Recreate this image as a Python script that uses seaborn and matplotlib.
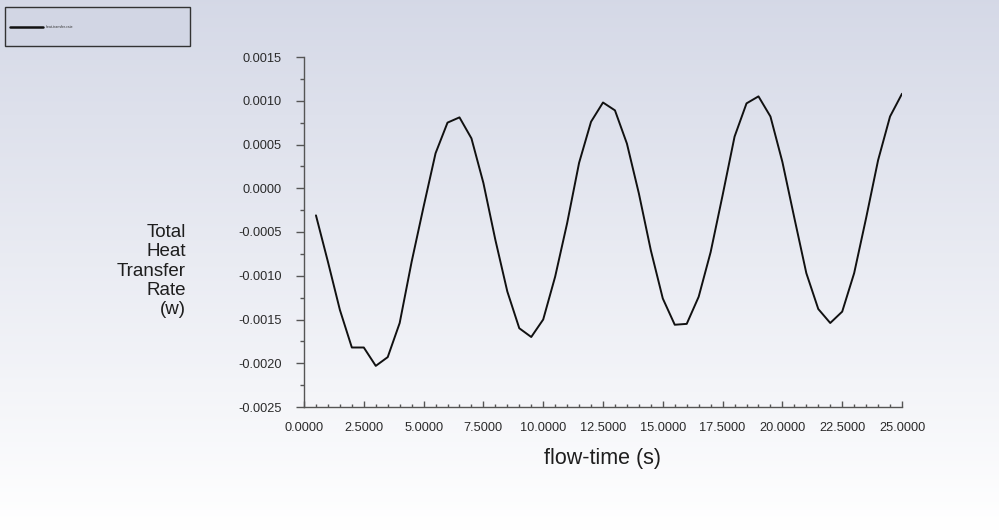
import numpy as np
import pandas as pd
import matplotlib
matplotlib.use("Agg")
import matplotlib.pyplot as plt
import matplotlib.ticker as mticker
from matplotlib.patches import Rectangle
from matplotlib.lines import Line2D
import seaborn as sns

# ---- data ----
flow_time = [0.5, 1.0, 1.5, 2.0, 2.5, 3.0, 3.5, 4.0, 4.5, 5.0,
             5.5, 6.0, 6.5, 7.0, 7.5, 8.0, 8.5, 9.0, 9.5, 10.0,
             10.5, 11.0, 11.5, 12.0, 12.5, 13.0, 13.5, 14.0, 14.5, 15.0,
             15.5, 16.0, 16.5, 17.0, 17.5, 18.0, 18.5, 19.0, 19.5, 20.0,
             20.5, 21.0, 21.5, 22.0, 22.5, 23.0, 23.5, 24.0, 24.5, 25.0]
heat_rate = [-0.00031, -0.00084, -0.00139, -0.00182, -0.00182, -0.00203, -0.00193, -0.00154, -0.00084, -0.00021,
             0.00040, 0.00075, 0.00081, 0.00057, 0.00006, -0.00059, -0.00118, -0.00160, -0.00170, -0.00150,
             -0.00101, -0.00040, 0.00029, 0.00076, 0.00098, 0.00089, 0.00051, -0.00006, -0.00071, -0.00126,
             -0.00156, -0.00155, -0.00124, -0.00073, -0.00008, 0.00059, 0.00097, 0.00105, 0.00082, 0.00030,
             -0.00034, -0.00097, -0.00138, -0.00154, -0.00141, -0.00097, -0.00034, 0.00032, 0.00082, 0.00108]
series_name = "heat-transfer-rate"
x_label = "flow-time (s)"
y_label = "Total\nHeat\nTransfer\nRate\n(w)"

df = pd.DataFrame({"flow_time": flow_time, "value": heat_rate})

sns.set_theme(style="white")
plt.rcParams["font.family"] = ["Liberation Sans", "DejaVu Sans"]

W, H = 999, 531
fig = plt.figure(figsize=(W / 100, H / 100), dpi=100)

# gradient background
bg = fig.add_axes([0, 0, 1, 1], zorder=-10)
top = np.array([0.835, 0.850, 0.905])
bot = np.array([1.0, 1.0, 1.0])
t = np.linspace(0, 1, 256)[:, None]
grad = top[None, :] * (1 - t) + bot[None, :] * t
bg.imshow(grad[:, None, :].repeat(2, axis=1), aspect="auto", extent=[0, 1, 0, 1])
bg.set_axis_off()

ax = fig.add_axes([304 / W, 1 - 407 / H, 598 / W, 350 / H])
ax.set_facecolor("none")
sns.lineplot(data=df, x="flow_time", y="value", ax=ax, color="#111111",
             linewidth=1.4, legend=False)

ax.set_xlim(0, 25)
ax.set_ylim(-0.0025, 0.0015)
ax.xaxis.set_major_locator(mticker.MultipleLocator(2.5))
ax.xaxis.set_minor_locator(mticker.MultipleLocator(0.5))
ax.yaxis.set_major_locator(mticker.MultipleLocator(0.0005))
ax.yaxis.set_minor_locator(mticker.MultipleLocator(0.00025))
ax.xaxis.set_major_formatter(mticker.FormatStrFormatter("%.4f"))
ax.yaxis.set_major_formatter(mticker.FormatStrFormatter("%.4f"))

for s in ["top", "right"]:
    ax.spines[s].set_visible(False)
for s in ["left", "bottom"]:
    ax.spines[s].set_color("#555555")
    ax.spines[s].set_linewidth(1.0)

ax.tick_params(axis="y", which="major", direction="out", length=6, width=1,
               color="#555555", labelsize=9.2, labelcolor="#2a2a2a", pad=10, left=True)
ax.tick_params(axis="y", which="minor", direction="out", length=3, width=1,
               color="#555555", left=True)
ax.tick_params(axis="x", which="major", direction="in", length=4, width=1,
               color="#555555", labelsize=9.2, labelcolor="#2a2a2a", pad=11, bottom=True)
ax.tick_params(axis="x", which="minor", direction="in", length=2.5, width=1,
               color="#555555", bottom=True)

ax.set_xlabel(x_label, fontsize=15.5, color="#1e1e1e", labelpad=10)
ax.set_ylabel("")
fig.text(186 / W, 1 - 271 / H, y_label, ha="right", va="center",
         fontsize=13.5, color="#1e1e1e", linespacing=1.18, multialignment="right")

# legend box (Fluent style)
fig.patches.append(Rectangle((5 / W, 1 - 46 / H), 185 / W, 39 / H,
                             transform=fig.transFigure, facecolor="#d2d6e4",
                             edgecolor="#333333", linewidth=1.0, zorder=5))
fig.lines.append(Line2D([10 / W, 43 / W], [1 - 27 / H, 1 - 27 / H],
                        transform=fig.transFigure, color="#111111", linewidth=1.8, zorder=6))
fig.text(46 / W, 1 - 27 / H, series_name, fontsize=2.5, color="#333333",
         va="center", ha="left", zorder=6)

fig.savefig("out.png", dpi=100)
